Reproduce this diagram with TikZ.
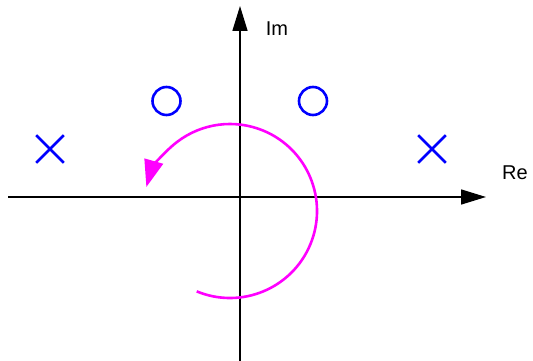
\documentclass[tikz,border=0pt]{standalone}
\usepackage{fontspec}
\setmainfont{Liberation Sans}
\usetikzlibrary{arrows.meta,shapes.misc}
\definecolor{contour}{rgb}{1,0,1}
\definecolor{pzblue}{rgb}{0,0,1}
\tikzset{
  axis/.style={line width=1.6pt, -{Triangle[length=25pt, width=15pt]}},
  zero/.style={circle, draw=pzblue, line width=2.6pt, minimum size=28pt, inner sep=0pt},
  pole/.style={cross out, draw=pzblue, line width=2.6pt, minimum size=25pt, inner sep=0pt},
  path/.style={contour, line width=2.6pt, -{Triangle[length=27pt, width=19pt]}},
  lbl/.style={font=\fontsize{20}{24}\selectfont, inner sep=0pt}}

\begin{document}
\begin{tikzpicture}[x=1pt, y=1pt]
  \useasboundingbox (0,0) rectangle (533,361);
  % axes
  \coordinate (xl) at (8,164);
  \coordinate (xr) at (486,164);
  \coordinate (yb) at (240,0);
  \coordinate (yt) at (240,355);
  \draw[axis] (xl) -- (xr);
  \draw[axis] (yb) -- (yt);
  \node[lbl] (re) at (515,188) {Re};
  \node[lbl] (im) at (277,332) {Im};
  % zeros and poles
  \node[zero] (z1) at (166.5,260) {};
  \node[zero] (z2) at (313,260) {};
  \node[pole] (p1) at (50,212) {};
  \node[pole] (p2) at (432,212) {};
  % contour
  \coordinate (c) at (230,150);
  \draw[path] (c) ++(-112.5:87) arc[start angle=-112.5, end angle=164, radius=87];
\end{tikzpicture}
\end{document}
